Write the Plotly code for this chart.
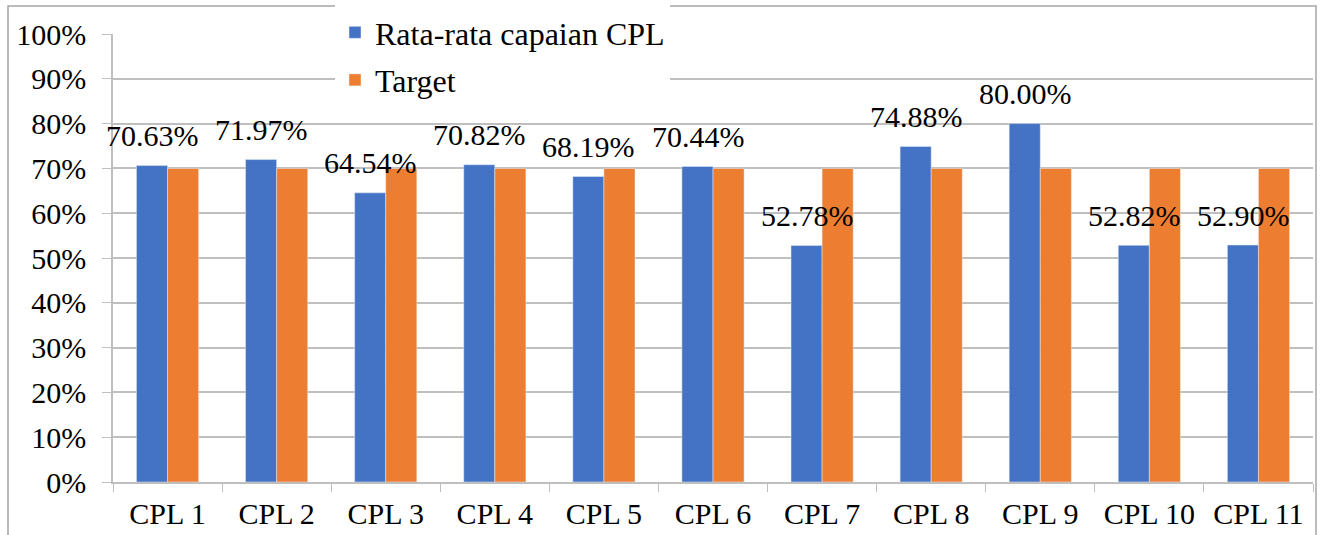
import plotly.graph_objects as go

categories = ["CPL 1", "CPL 2", "CPL 3", "CPL 4", "CPL 5", "CPL 6", "CPL 7", "CPL 8", "CPL 9", "CPL 10", "CPL 11"]
capaian = [70.63, 71.97, 64.54, 70.82, 68.19, 70.44, 52.78, 74.88, 80.00, 52.82, 52.90]
target = [70, 70, 70, 70, 70, 70, 70, 70, 70, 70, 70]
yticks = [0, 10, 20, 30, 40, 50, 60, 70, 80, 90, 100]
ytick_labels = [f"{v}%" for v in yticks]

FONT = "Liberation Serif, serif"
NUM_FS = 30

fig = go.Figure()
fig.add_trace(go.Bar(x=categories, y=capaian, name="Rata-rata capaian CPL",
                     marker_color="#4472C4", legendgroup="a"))
fig.add_trace(go.Bar(x=categories, y=target, name="Target",
                     marker_color="#ED7D31", legendgroup="b"))

for c, v in zip(categories, capaian):
    fig.add_annotation(x=c, y=v, text=f"{v:.2f}%", showarrow=False,
                       xshift=-15, yshift=30, yanchor="middle",
                       font=dict(family=FONT, size=NUM_FS, color="black"))

fig.add_shape(type="rect", xref="paper", yref="paper",
              x0=(8 - 113) / 1200, x1=(1316 - 113) / 1200,
              y0=-0.3, y1=(482 - 6) / 448,
              line=dict(color="#a6a6a6", width=1.5), fillcolor="rgba(0,0,0,0)", layer="below")

fig.update_layout(
    width=1323, height=535,
    margin=dict(l=113, r=10, t=34, b=53, autoexpand=False),
    plot_bgcolor="white", paper_bgcolor="white",
    barmode="group", bargap=0.43, bargroupgap=0,
    font=dict(family=FONT, size=30, color="black"),
    showlegend=True,
    legend=dict(x=(335 - 113) / 1200, y=(482 - 5) / 448, xanchor="left", yanchor="top",
                bgcolor="white", font=dict(family=FONT, size=32, color="black"),
                tracegroupgap=3, traceorder="grouped", itemwidth=30),
    xaxis=dict(type="category", range=[-0.5, len(categories) - 0.5],
               tickson="boundaries", ticks="outside", ticklen=8,
               tickcolor="#bfbfbf", showline=True, linecolor="#bfbfbf", linewidth=1.5,
               showgrid=False, ticklabelstandoff=4, automargin=False,
               tickfont=dict(family=FONT, size=30, color="black")),
    yaxis=dict(range=[0, 100], tickvals=yticks, ticktext=ytick_labels,
               showgrid=True, gridcolor="#bfbfbf", gridwidth=1.5,
               showline=True, linecolor="#bfbfbf", linewidth=1.5,
               ticks="outside", ticklen=9, tickcolor="#bfbfbf",
               ticklabelstandoff=10, zeroline=False, automargin=False,
               tickfont=dict(family=FONT, size=NUM_FS, color="black")),
)

fig.write_html("out.html", config={"displayModeBar": False},
               post_script="document.body.style.margin='0';document.body.style.overflow='hidden';")
